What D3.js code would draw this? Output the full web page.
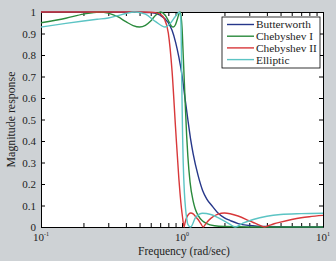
<!DOCTYPE html>
<html>
<head>
<meta charset="utf-8">
<script src="https://cdn.jsdelivr.net/npm/d3@7"></script>
<style>
  body { margin: 0; background: #ced2d5; }
  svg { display: block; }
  .axis path, .axis line { stroke: #000; }
  .axis text { fill: #222; }
</style>
</head>
<body>
<div id="chart"></div>
<script>
/* global d3 */

// series names and colours
var seriesNames = ['Butterworth', 'Chebyshev I', 'Chebyshev II', 'Elliptic'];
var seriesColors = ['#26378a', '#2a8a3c', '#d8383a', '#5cc4c4'];

// Butterworth
var butterFreq = [0.1, 0.3, 0.5, 0.6, 0.7, 0.8, 0.85, 0.9, 0.95, 1.0, 1.05, 1.1, 1.15, 1.2, 1.3, 1.4, 1.5, 1.65, 1.8, 2.0, 2.2, 2.5, 3, 4, 6, 10];
var butterMag = [1, 1, 0.999, 0.997, 0.985, 0.95, 0.915, 0.86, 0.79, 0.707, 0.6, 0.5, 0.41, 0.34, 0.24, 0.17, 0.13, 0.095, 0.065, 0.042, 0.03, 0.016, 0.007, 0.002, 0.0005, 0];

// Chebyshev I
var cheby1Freq = [0.1, 0.15, 0.2, 0.259, 0.3, 0.35, 0.4, 0.45, 0.5, 0.55, 0.6, 0.65, 0.707, 0.76, 0.8, 0.84, 0.866, 0.9, 0.93, 0.966, 0.985, 1.0, 1.02, 1.05, 1.08, 1.1, 1.14, 1.2, 1.24, 1.3, 1.4, 1.5, 1.7, 2, 3, 10];
var cheby1Mag = [0.95, 0.971, 0.99, 1, 0.995, 0.978, 0.955, 0.937, 0.93, 0.938, 0.958, 0.985, 1, 0.985, 0.96, 0.935, 0.93, 0.942, 0.97, 1, 0.98, 0.93, 0.8, 0.6, 0.42, 0.33, 0.21, 0.12, 0.085, 0.054, 0.028, 0.016, 0.006, 0.002, 0, 0];

// Chebyshev II
var cheby2Freq = [0.1, 0.5, 0.6, 0.65, 0.7, 0.75, 0.8, 0.85, 0.9, 0.95, 0.97, 0.99, 1.0, 1.01, 1.035, 1.05, 1.08, 1.155, 1.2, 1.25, 1.3, 1.36, 1.414, 1.48, 1.6, 1.8, 2.0, 2.5, 3.0, 3.2, 3.5, 3.86, 4.2, 4.5, 5, 6, 7, 8, 10];
var cheby2Mag = [1, 1, 0.999, 0.997, 0.99, 0.968, 0.902, 0.726, 0.462, 0.225, 0.151, 0.09, 0.065, 0.043, 0, 0.0185, 0.045, 0.065, 0.061, 0.048, 0.035, 0.016, 0, 0.017, 0.04, 0.06, 0.065, 0.051, 0.029, 0.021, 0.01, 0, 0.0084, 0.015, 0.023, 0.035, 0.043, 0.048, 0.054];

// Elliptic
var ellipFreq = [0.1, 0.15, 0.2, 0.25, 0.3, 0.35, 0.4, 0.46, 0.55, 0.65, 0.76, 0.82, 0.9, 0.96, 0.98, 1.0, 1.01, 1.02, 1.04, 1.06, 1.08, 1.1, 1.15, 1.25, 1.4, 1.6, 1.9, 2.2, 2.38, 2.7, 3.2, 4, 5, 7, 10];
var ellipMag = [0.93, 0.947, 0.958, 0.966, 0.972, 0.983, 0.993, 1, 0.99, 0.955, 0.93, 0.945, 0.98, 1, 0.97, 0.6, 0.42, 0.3, 0.16, 0.085, 0.04, 0.012, 0, 0.045, 0.064, 0.058, 0.035, 0.012, 0, 0.018, 0.035, 0.05, 0.058, 0.062, 0.064];

// axis ticks
var xLabelTicks = [0.1, 1, 10];
var xLabelExps = ['-1', '0', '1'];
var yTicks = [0, 0.1, 0.2, 0.3, 0.4, 0.5, 0.6, 0.7, 0.8, 0.9, 1];

var width = 336,
  height = 261,
  margin = { top: 12, right: 13, bottom: 34, left: 41 },
  innerWidth = width - margin.left - margin.right,
  innerHeight = height - margin.top - margin.bottom,
  serif = '"Liberation Serif", "Times New Roman", "DejaVu Serif Condensed", "DejaVu Serif", serif';

var series = [
  { f: butterFreq, m: butterMag },
  { f: cheby1Freq, m: cheby1Mag },
  { f: cheby2Freq, m: cheby2Mag },
  { f: ellipFreq, m: ellipMag }
].map(function (s, i) {
  return {
    name: seriesNames[i],
    color: seriesColors[i],
    values: s.f.map(function (f, j) { return [f, s.m[j]]; })
  };
});

var xScale = d3.scaleLog().domain([0.1, 10]).range([0, innerWidth]);
var yScale = d3.scaleLinear().domain([0, 1]).range([innerHeight, 0]);

var svg = d3.select('#chart').append('svg')
  .attr('width', width)
  .attr('height', height)
  .attr('font-family', serif);

svg.append('rect')
  .attr('width', width).attr('height', height)
  .attr('fill', '#ced2d5');

var g = svg.append('g')
  .attr('transform', translation(margin.left, margin.top));

g.append('rect')
  .attr('width', innerWidth).attr('height', innerHeight)
  .attr('fill', '#fff');

// SET UP AXES (ticks pointing inward, on all four sides)
var minorTicks = xScale.ticks();

var xAxisBottom = d3.axisBottom(xScale)
  .tickValues(minorTicks).tickSizeInner(-4).tickSizeOuter(0).tickFormat('');
var xAxisTop = d3.axisTop(xScale)
  .tickValues(minorTicks).tickSizeInner(-4).tickSizeOuter(0).tickFormat('');
var yAxisLeft = d3.axisLeft(yScale)
  .tickValues(yTicks).tickSizeInner(-4).tickSizeOuter(0).tickPadding(5)
  .tickFormat(function (d) { return String(+d.toFixed(1)); });
var yAxisRight = d3.axisRight(yScale)
  .tickValues(yTicks).tickSizeInner(-4).tickSizeOuter(0).tickFormat('');

g.append('g').attr('class', 'axis x bottom')
  .attr('transform', translation(0, innerHeight)).call(xAxisBottom);
g.append('g').attr('class', 'axis x top').call(xAxisTop);
g.append('g').attr('class', 'axis y left').call(yAxisLeft);
g.append('g').attr('class', 'axis y right')
  .attr('transform', translation(innerWidth, 0)).call(yAxisRight);

// d3 puts sans-serif on axis groups; put the serif back
g.selectAll('.axis')
  .attr('font-family', serif)
  .attr('font-size', 11);
g.selectAll('.axis.x text, .axis.y.right text').remove();

// x labels 10^n
var xl = g.selectAll('.xlab').data(xLabelTicks).enter().append('text')
  .attr('class', 'xlab')
  .attr('x', function (d) { return xScale(d); })
  .attr('y', innerHeight + 14)
  .attr('text-anchor', 'middle')
  .attr('font-size', 11)
  .attr('fill', '#222');
xl.append('tspan').text('10');
xl.append('tspan')
  .attr('dy', -5)
  .attr('font-size', 6)
  .text(function (d, i) { return xLabelExps[i]; });

// DRAW LINES
svg.append('clipPath').attr('id', 'clip')
  .append('rect').attr('x', -1).attr('y', -1)
  .attr('width', innerWidth + 2).attr('height', innerHeight + 2);

var line = d3.line()
  .x(function (d) { return xScale(d[0]); })
  .y(function (d) { return yScale(d[1]); })
  .curve(d3.curveMonotoneX);

g.append('g').attr('clip-path', 'url(#clip)')
  .selectAll('.curve').data(series).enter().append('path')
  .attr('class', 'curve')
  .attr('fill', 'none')
  .attr('stroke', function (d) { return d.color; })
  .attr('stroke-width', 1.4)
  .attr('d', function (d) { return line(d.values); });

// axis titles
svg.append('text')
  .attr('x', margin.left + xScale(1) + 2)
  .attr('y', 255)
  .attr('text-anchor', 'middle')
  .attr('font-size', 12)
  .attr('fill', '#222')
  .text('Frequency (rad/sec)')
  .call(fitWidth, 92);

svg.append('text')
  .attr('transform', translation(15, margin.top + innerHeight / 2) + 'rotate(-90)')
  .attr('text-anchor', 'middle')
  .attr('font-size', 12)
  .attr('fill', '#222')
  .text('Magnitude response')
  .call(fitWidth, 96);

// LEGEND
var legend = svg.append('g').attr('transform', translation(222, 17));
legend.append('rect')
  .attr('width', 98).attr('height', 51)
  .attr('fill', '#fff').attr('stroke', '#000').attr('stroke-width', 0.8);

var items = legend.selectAll('.item').data(series).enter().append('g')
  .attr('class', 'item')
  .attr('transform', function (d, i) { return translation(0, 7.5 + i * 11.7); });
items.append('line')
  .attr('x1', 5).attr('x2', 32)
  .attr('stroke', function (d) { return d.color; })
  .attr('stroke-width', 1.4);
var legendText = items.append('text')
  .attr('x', 34).attr('dy', '0.35em')
  .attr('font-size', 12)
  .attr('fill', '#222')
  .text(function (d) { return d.name; });

// shrink all legend labels by the same factor so the longest fits the box
var longest = d3.max(legendText.nodes(), function (n) { return n.getComputedTextLength(); });
if (longest > 61) legendText.attr('font-size', 12 * 61 / longest);

function fitWidth(sel, maxW) {
  var w = sel.node().getComputedTextLength();
  if (w > maxW) sel.attr('font-size', 12 * maxW / w);
}

function translation(x, y) {
  return 'translate(' + x + ',' + y + ')';
}
</script>
</body>
</html>
